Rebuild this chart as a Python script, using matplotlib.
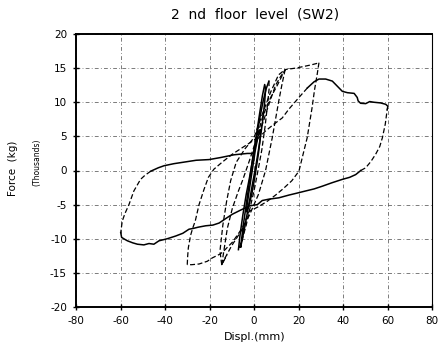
import matplotlib
matplotlib.use("Agg")
import matplotlib.pyplot as plt

# ---------------- data (displacement mm, force thousands kg) ----------------
x_ticks = [-80, -60, -40, -20, 0, 20, 40, 60, 80]
y_ticks = [-20, -15, -10, -5, 0, 5, 10, 15, 20]
x_ticklabels = ["-80", "-60", "-40", "-20", "0", "20", "40", "60", "80"]
y_ticklabels = ["-20", "-15", "-10", "-5", "0", "5", "10", "15", "20"]

# +/-60 mm cycle
c60_topneg_x = [1.5, 0.5, 0, -3, -6, -9, -12, -15, -20.2, -26, -32, -36, -40.4, -43, -46.4]
c60_topneg_y = [4.6, 3.5, 2.5, 2.5, 2.4, 2.3, 2.1, 1.9, 1.6, 1.5, 1.2, 1.0, 0.7, 0.4, -0.1]
c60_topneg2_x = [-46.4, -49, -51, -54, -56.2, -58, -59.2, -59.9]
c60_topneg2_y = [-0.1, -0.7, -1.3, -3.0, -5.0, -6.3, -7.4, -9.1]
c60_bot_x = [-59.9, -59.5, -58, -56.9, -54.5, -52.4, -49.5, -47.2, -45, -42.7, -39, -35.2, -32,
             -29.2, -27.5, -25, -21.7, -18.5, -15.7, -12.5, -9.7, -6, -2.2, 1.5, 3.7, 6.7,
             11.2, 15.7, 19.5, 23.2, 27, 30.7, 35, 39.7, 43, 45.7, 48]
c60_bot_y = [-9.1, -9.8, -10.1, -10.3, -10.6, -10.8, -10.9, -10.7, -10.8, -10.3, -10.0, -9.6, -9.2,
             -8.6, -8.5, -8.3, -8.1, -8.0, -7.7, -7.0, -6.4, -5.8, -5.2, -5.0, -4.4, -4.2,
             -4.0, -3.6, -3.3, -3.0, -2.7, -2.3, -1.8, -1.3, -1.0, -0.6, 0.0]
c60_botright_x = [48, 50.2, 52.5, 54.7, 56.5, 57.7, 59, 59.9]
c60_botright_y = [0.0, 0.4, 1.3, 2.4, 3.5, 4.8, 6.8, 9.0]
c60_toppos_x = [59.9, 60.2, 59.2, 56.9, 53.9, 52, 50.2, 47.9, 46.8, 46.4, 45, 42, 39.7, 38.2,
                35.2, 32.2, 29.2, 27, 24]
c60_toppos_y = [9.0, 9.4, 9.7, 9.9, 10.0, 10.1, 9.8, 9.85, 10.2, 10.7, 11.3, 11.4, 11.6, 12.1,
                13.1, 13.4, 13.4, 13.0, 12.1]
c60_toppos2_x = [24, 20.2, 15.7, 12.7, 9, 5.2, 1.5]
c60_toppos2_y = [12.1, 10.7, 9.0, 7.7, 6.8, 5.8, 4.6]

# +/-30 mm cycle
c30_up_x = [-30, -29.8, -29.5, -28.5, -27.5, -26.4, -24.7, -22.5, -20.5, -18, -14, -9.7, -5,
            0.7, 4, 7, 9.7, 12, 14.2, 18.7, 23.2, 26, 28.4, 29.2]
c30_up_y = [-13.8, -12.5, -11.3, -9.5, -8.4, -7.4, -5.0, -2.8, -1.0, 0.2, 1.3, 2.4, 3.4,
            4.6, 7.0, 10.0, 12.5, 13.8, 14.8, 15.0, 15.3, 15.5, 15.7, 15.8]
c30_down_x = [29.2, 28.4, 27.2, 26.1, 25, 23.9, 22, 20.2, 17, 13, 9.7, 6, 2, -2.2, -5.2, -9.7,
              -13, -15, -18.7, -21, -24.7, -28, -30]
c30_down_y = [15.8, 14.1, 11.8, 9.2, 7.0, 4.8, 2.3, -0.1, -1.5, -2.7, -3.6, -4.5, -5.3, -6.0,
              -8.4, -10.5, -11.6, -12.2, -12.8, -13.3, -13.7, -13.8, -13.8]

# +/-15 mm cycles
c15_up1_x = [-14.5, -15.3, -14, -12.3, -10.5, -8, -4, 0, 4, 7.5, 11, 14]
c15_up1_y = [-13.8, -11.8, -8.0, -4.5, -1.5, 1.2, 3.2, 4.8, 8.5, 11.5, 14.0, 14.8]
c15_up2_x = [-14.5, -12, -9.7, -7, -5.2, -2, 1, 4, 7.5, 10.5, 14]
c15_up2_y = [-13.8, -8.5, -5.5, -3.0, -1.5, 1.5, 4.5, 8.0, 10.7, 12.5, 14.8]
c15_down_x = [14, 12.5, 11.2, 8.2, 5.2, 2, -2, -6, -10, -13, -14.5, -12.2]
c15_down_y = [14.8, 12.5, 10.3, 4.8, 0.0, -3.5, -6.5, -9.0, -11.0, -12.8, -13.8, -12.4]

# +/-7 mm cycles (steep central bundle)
c7_up_x = [-7, -6.3, -5, -3.5, -2, -0.5, 1, 2.5, 4, 5.5, 6.7]
c7_up_y = [-11.6, -9.5, -6.5, -3.5, -1.0, 1.8, 4.5, 7.5, 10.0, 12.0, 13.1]
c7_down_x = [6.7, 6.8, 6.2, 5, 3.5, 1.8, 0, -1.8, -3.5, -5.2, -6.3, -7]
c7_down_y = [13.1, 12.0, 10.0, 6.5, 3.0, 0.0, -3.0, -5.5, -8.0, -10.0, -11.0, -11.6]
c5_x = [-6, -4.8, -3.5, -1.8, -0.3, 1.2, 2.6, 3.8, 4.8, 5.2, 4.8, 3.8, 2.5, 1, -0.7, -2.3, -4, -5.2, -6]
c5_y = [-11.2, -8.0, -5.0, -1.0, 2.5, 5.5, 8.5, 11.0, 12.6, 12.0, 10.0, 7.0, 4.0, 1.0, -2.0, -5.0, -8.0, -10.0, -11.2]
c3_x = [-3.5, -2.2, -0.8, 0.6, 1.8, 3, 2.8, 2, 0.6, -1, -2.5, -3.5]
c3_y = [-6.0, -3.0, 0.0, 3.0, 5.0, 6.0, 4.8, 2.5, -0.5, -3.5, -5.3, -6.0]

# ---------------- figure ----------------
fig = plt.figure(figsize=(4.4, 3.45), dpi=100)
ax = fig.add_axes([76 / 440, 1 - 307 / 345, (432 - 76) / 440, (307 - 34) / 345])

ax.set_xlim(-80, 80)
ax.set_ylim(-20, 20)
ax.set_xticks(x_ticks)
ax.set_yticks(y_ticks)
ax.set_xticklabels(x_ticklabels)
ax.set_yticklabels(y_ticklabels)

ax.grid(True, color="0.35", linewidth=0.55, linestyle=(0, (5, 3, 1, 3)))
ax.set_axisbelow(True)
ax.tick_params(direction="inout", length=5, width=1, labelsize=7.5, pad=4, colors="black")

for side in ["left", "bottom", "top"]:
    ax.spines[side].set_linewidth(1.4)
ax.spines["right"].set_linewidth(0.8)

solid = dict(color="black", linewidth=1.1, solid_joinstyle="round")
dashed = dict(color="black", linewidth=0.9, linestyle=(0, (4, 2)))
bundle = dict(color="black", linewidth=1.1)

ax.plot(c60_topneg_x, c60_topneg_y, **solid)
ax.plot(c60_topneg2_x, c60_topneg2_y, **dashed)
ax.plot(c60_bot_x, c60_bot_y, **solid)
ax.plot(c60_botright_x, c60_botright_y, **dashed)
ax.plot(c60_toppos_x, c60_toppos_y, **solid)
ax.plot(c60_toppos2_x, c60_toppos2_y, **dashed)

ax.plot(c30_up_x, c30_up_y, **dashed)
ax.plot(c30_down_x, c30_down_y, **dashed)

ax.plot(c15_up1_x, c15_up1_y, **dashed)
ax.plot(c15_up2_x, c15_up2_y, **dashed)
ax.plot(c15_down_x, c15_down_y, **dashed)

ax.plot(c7_up_x, c7_up_y, **bundle)
ax.plot(c7_down_x, c7_down_y, **dashed)
ax.plot(c5_x, c5_y, **bundle)
ax.plot(c3_x, c3_y, **bundle)

fig.text(255 / 440, 1 - 15 / 345, "2  nd  floor  level  (SW2)", ha="center", va="center",
         fontsize=10)
fig.text(255 / 440, 1 - 337 / 345, "Displ.(mm)", ha="center", va="center", fontsize=8)
fig.text(13 / 440, 1 - 168 / 345, "Force  (kg)", ha="center", va="center", rotation=90,
         fontsize=7.5)
fig.text(37 / 440, 1 - 162 / 345, "(Thousands)", ha="center", va="center", rotation=90,
         fontsize=5.5)

fig.savefig("out.png", dpi=100)
